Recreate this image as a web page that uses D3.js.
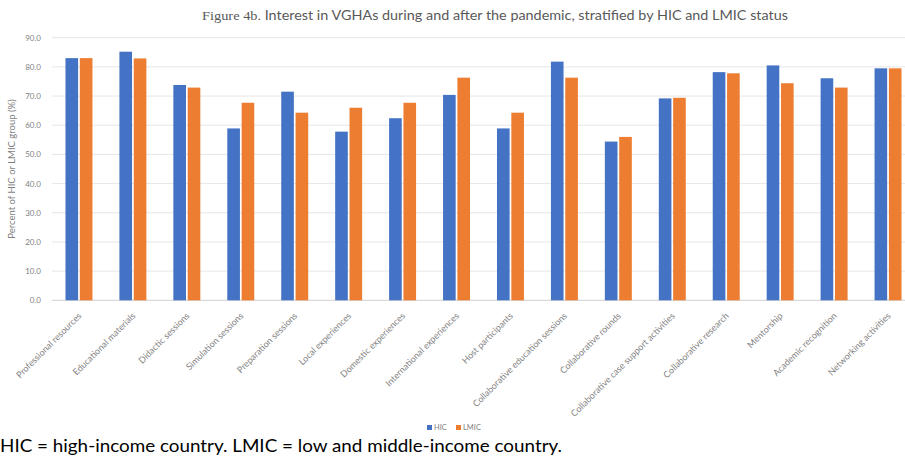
<!DOCTYPE html>
<html>
<head>
<meta charset="utf-8">
<script src="https://cdn.jsdelivr.net/npm/d3@7"></script>
<style>
  body { margin: 0; background: #fff; }
  svg { display: block; }
</style>
</head>
<body>
<svg id="chart" width="905" height="462"></svg>
<script>
var categories = [
  'Professional resources', 'Educational materials', 'Didactic sessions',
  'Simulation sessions', 'Preparation sessions', 'Local experiences',
  'Domestic experiences', 'International experiences', 'Host participants',
  'Collaborative education sessions', 'Collaborative rounds',
  'Collaborative case support activities', 'Collaborative research',
  'Mentorship', 'Academic recognition', 'Networking activities'
]
var hic = [83.0, 85.2, 73.8, 58.9, 71.5, 57.8, 62.4, 70.4, 58.9, 81.8, 54.4, 69.2, 78.2, 80.5, 76.1, 79.5]
var lmic = [83.0, 82.9, 72.9, 67.7, 64.3, 66.0, 67.7, 76.3, 64.3, 76.3, 56.0, 69.4, 77.8, 74.4, 72.9, 79.5]
var seriesNames = ['HIC', 'LMIC']
var yTicks = [0, 10, 20, 30, 40, 50, 60, 70, 80, 90]

var colors = d3.scaleOrdinal().domain(seriesNames).range(['#4472C4', '#ED7D31'])
var svg = d3.select('#chart')
var font = 'Lato, "Open Sans", sans-serif'

var x = d3.scaleBand().domain(categories).range([52, 915]).paddingInner(0.5).paddingOuter(0.25)
var x1 = d3.scaleBand().domain(seriesNames).range([0, x.bandwidth()]).paddingInner(0.12)
var y = d3.scaleLinear().domain([0, 90]).range([300.3, 37.7])

// title: caption part in serif, rest in sans
var title = svg.append('text')
  .attr('x', 202).attr('y', 20)
  .attr('textLength', 586)
  .attr('lengthAdjust', 'spacingAndGlyphs')
  .attr('font-size', 13)
  .attr('fill', '#595959')
title.append('tspan')
  .attr('font-family', '"Liberation Serif", "DejaVu Serif", serif')
  .text('Figure 4b. ')
title.append('tspan')
  .attr('font-family', font)
  .text('Interest in VGHAs during and after the pandemic, stratified by HIC and LMIC status')

// grid
svg.append('g')
  .selectAll('line')
  .data(yTicks)
  .enter()
  .append('line')
  .attr('x1', 52).attr('x2', 905)
  .attr('y1', function (d) { return y(d) })
  .attr('y2', function (d) { return y(d) })
  .attr('stroke', function (d) { return d === 0 ? '#d0d0d0' : '#e6e6e6' })
  .attr('stroke-width', 1)

// y axis
var yAxis = svg.append('g')
  .attr('transform', 'translate(43,0)')
  .call(d3.axisLeft(y).tickValues(yTicks).tickSize(0).tickFormat(d3.format('.1f')))
yAxis.select('.domain').remove()
yAxis.selectAll('text')
  .attr('font-family', font)
  .attr('font-size', 8)
  .attr('fill', '#7f7f7f')
  .attr('x', -2)

svg.append('text')
  .attr('transform', 'translate(15,169) rotate(-90)')
  .attr('text-anchor', 'middle')
  .attr('font-family', font)
  .attr('font-size', 9.5)
  .attr('fill', '#7f7f7f')
  .text('Percent of HIC or LMIC group (%)')

// bars
var rows = categories.map(function (c, i) {
  return { cat: c, vals: [{ s: 'HIC', v: hic[i] }, { s: 'LMIC', v: lmic[i] }] }
})

var groups = svg.append('g')
  .selectAll('g')
  .data(rows)
  .enter()
  .append('g')
  .attr('transform', function (d) { return 'translate(' + x(d.cat) + ',0)' })

groups.selectAll('rect')
  .data(function (d) { return d.vals })
  .enter()
  .append('rect')
  .attr('x', function (d) { return x1(d.s) })
  .attr('width', x1.bandwidth())
  .attr('y', function (d) { return y(d.v) })
  .attr('height', function (d) { return y(0) - y(d.v) })
  .attr('fill', function (d) { return colors(d.s) })

// x labels
var xAxis = svg.append('g')
  .attr('transform', 'translate(0,' + y(0) + ')')
  .call(d3.axisBottom(x).tickSize(0))
xAxis.select('.domain').remove()
xAxis.selectAll('text')
  .attr('font-family', font)
  .attr('font-size', 9)
  .attr('fill', '#7f7f7f')
  .attr('text-anchor', 'end')
  .attr('dy', 0)
  .attr('transform', 'translate(1,14) rotate(-45)')

// legend
var legend = svg.append('g').attr('transform', 'translate(427,430)')
seriesNames.forEach(function (s, i) {
  var g = legend.append('g').attr('transform', 'translate(' + (i * 29) + ',0)')
  g.append('rect').attr('x', 0).attr('y', -5).attr('width', 5).attr('height', 5).attr('fill', colors(s))
  g.append('text').attr('x', 7).attr('y', 0)
    .attr('font-family', font).attr('font-size', 7.5).attr('fill', '#7f7f7f')
    .text(s)
})

// footnote
svg.append('text')
  .attr('x', 0).attr('y', 452)
  .attr('textLength', 562)
  .attr('lengthAdjust', 'spacingAndGlyphs')
  .attr('font-family', font)
  .attr('font-size', 18)
  .attr('fill', '#000')
  .text('HIC = high-income country. LMIC = low and middle-income country.')
</script>
</body>
</html>
